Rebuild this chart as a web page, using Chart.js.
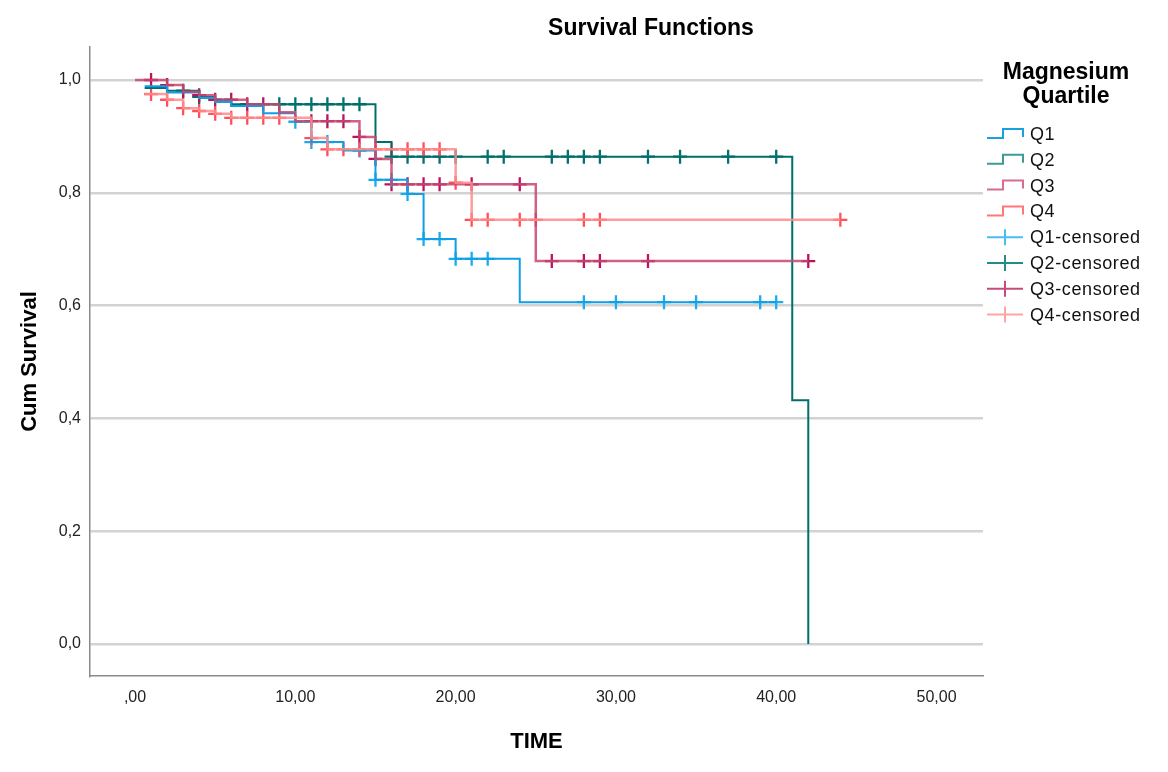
<!DOCTYPE html>
<html>
<head>
<meta charset="utf-8">
<script src="https://cdn.jsdelivr.net/npm/chart.js@4/dist/chart.umd.min.js"></script>
<style>
html,body{margin:0;padding:0;background:#fff;}
#wrap{width:1168px;height:772px;position:relative;}
</style>
</head>
<body>
<div id="wrap"><canvas id="c"></canvas></div>
<script>
// ---- Data ----
const chartTitle = 'Survival Functions';
const legendTitle = ['Magnesium', 'Quartile'];
const xTicks = [0, 10, 20, 30, 40, 50];
const yTicks = [0, 0.2, 0.4, 0.6, 0.8, 1.0];

const q1Time = [0.6, 2, 4, 5, 6, 8, 10, 11, 13, 15, 17, 18, 20, 24, 40];
const q1Surv = [0.989, 0.978, 0.968, 0.961, 0.954, 0.941, 0.926, 0.890, 0.875, 0.823, 0.798, 0.718, 0.683, 0.606, 0.606];
const q1CensTime = [10, 11, 12, 14, 15, 16, 17, 18, 19, 20, 21, 22, 28, 30, 33, 35, 39, 40];
const q1CensSurv = [0.926, 0.890, 0.890, 0.875, 0.823, 0.823, 0.798, 0.718, 0.718, 0.683, 0.683, 0.683, 0.606, 0.606, 0.606, 0.606, 0.606, 0.606];

const q2Time = [0.6, 2, 4, 5, 6, 15, 16, 41, 42];
const q2Surv = [0.986, 0.981, 0.970, 0.965, 0.957, 0.890, 0.864, 0.432, 0.0];
const q2CensTime = [3, 4, 9, 10, 11, 12, 13, 14, 16, 17, 18, 19, 20, 22, 23, 26, 27, 28, 29, 32, 34, 37, 40];
const q2CensSurv = [0.981, 0.970, 0.957, 0.957, 0.957, 0.957, 0.957, 0.957, 0.864, 0.864, 0.864, 0.864, 0.864, 0.864, 0.864, 0.864, 0.864, 0.864, 0.864, 0.864, 0.864, 0.864, 0.864];

const q3Time = [0, 2, 3, 4, 5, 7, 9, 10, 14, 15, 16, 25, 42];
const q3Surv = [1.0, 0.991, 0.979, 0.973, 0.965, 0.957, 0.943, 0.927, 0.899, 0.860, 0.815, 0.679, 0.679];
const q3CensTime = [1, 2, 3, 4, 5, 6, 7, 8, 11, 12, 13, 14, 15, 16, 17, 18, 19, 21, 24, 26, 28, 29, 32, 42];
const q3CensSurv = [1.0, 0.991, 0.979, 0.973, 0.965, 0.965, 0.957, 0.957, 0.927, 0.927, 0.927, 0.899, 0.860, 0.815, 0.815, 0.815, 0.815, 0.815, 0.815, 0.679, 0.679, 0.679, 0.679, 0.679];

const q4Time = [0.6, 2, 3, 4, 5, 6, 11, 12, 20, 21, 44];
const q4Surv = [0.975, 0.965, 0.950, 0.945, 0.940, 0.933, 0.897, 0.877, 0.818, 0.752, 0.752];
const q4CensTime = [1, 2, 3, 4, 5, 6, 7, 8, 9, 11, 12, 13, 14, 15, 16, 17, 18, 19, 20, 21, 22, 24, 25, 28, 29, 44];
const q4CensSurv = [0.975, 0.965, 0.950, 0.945, 0.940, 0.933, 0.933, 0.933, 0.933, 0.897, 0.877, 0.877, 0.877, 0.877, 0.877, 0.877, 0.877, 0.877, 0.818, 0.752, 0.752, 0.752, 0.752, 0.752, 0.752, 0.752];

const seriesNames = ['Q1', 'Q2', 'Q3', 'Q4', 'Q1-censored', 'Q2-censored', 'Q3-censored', 'Q4-censored'];

// ---- Styles ----
const lineColors = {Q1:'#0f9fe6', Q2:'#006f6c', Q3:'rgba(200,72,112,0.85)', Q4:'rgba(255,140,140,0.85)'};
const markColors = {Q1:'#1aacee', Q2:'#00716e', Q3:'#b8165a', Q4:'#ff5058'};
const legendColors = ['#1a9fe0','#3d9b96','#d46f91','#ff7878','#47bdf0','#238c87','#c44c7a','#ffa3a3'];

function pts(t, v){ return t.map((x,i)=>({x:x, y:v[i]})); }

const FONT = "'Liberation Sans', Arial, sans-serif";

function lineDs(name, t, v, w){
  return {label:name, type:'line', data:pts(t,v), stepped:true, borderColor:lineColors[name],
    borderWidth:w, pointRadius:0, fill:false, tension:0};
}
function censDs(name, t, v){
  return {label:name+'-censored', type:'scatter', data:pts(t,v), pointStyle:'cross',
    pointRadius:7, pointBorderWidth:2.3, borderColor:markColors[name], backgroundColor:markColors[name], showLine:false};
}

const datasets = [
  lineDs('Q4', q4Time, q4Surv, 2.5),
  lineDs('Q3', q3Time, q3Surv, 2.5),
  lineDs('Q1', q1Time, q1Surv, 2),
  lineDs('Q2', q2Time, q2Surv, 2),
  censDs('Q4', q4CensTime, q4CensSurv),
  censDs('Q1', q1CensTime, q1CensSurv),
  censDs('Q3', q3CensTime, q3CensSurv),
  censDs('Q2', q2CensTime, q2CensSurv)
];

const decorPlugin = {
  id:'decor',
  afterDraw(chart){
    const ctx = chart.ctx;
    ctx.save();
    ctx.fillStyle = '#000';
    ctx.font = 'bold 23px ' + FONT;
    ctx.textAlign = 'center';
    ctx.textBaseline = 'middle';
    ctx.fillText(chartTitle, 651, 29);
    ctx.font = 'bold 23px ' + FONT;
    ctx.fillText(legendTitle[0], 1066, 73);
    ctx.fillText(legendTitle[1], 1066, 97);
    ctx.textAlign = 'left';
    ctx.font = '18px ' + FONT;
    try { ctx.letterSpacing = '0.6px'; } catch(e) {}
    const x0 = 987, x1 = 1023;
    seriesNames.forEach((name, i) => {
      const y = 134 + i * 25.8;
      ctx.strokeStyle = legendColors[i];
      ctx.lineWidth = 2;
      ctx.beginPath();
      if (i < 4) {
        ctx.moveTo(x0, y + 4);
        ctx.lineTo(x0 + 16, y + 4);
        ctx.lineTo(x0 + 16, y - 5);
        ctx.lineTo(x1, y - 5);
        ctx.lineTo(x1, y + 3);
      } else {
        ctx.moveTo(x0, y);
        ctx.lineTo(x1, y);
        ctx.moveTo((x0 + x1) / 2, y - 8);
        ctx.lineTo((x0 + x1) / 2, y + 8);
      }
      ctx.stroke();
      ctx.fillStyle = '#111';
      ctx.fillText(name, 1030, y + 1);
    });
    ctx.restore();
  }
};

new Chart(document.getElementById('c'), {
  data:{datasets:datasets},
  options:{
    responsive:true, maintainAspectRatio:false, animation:false,
    layout:{padding:{top:47, right:185, left:0, bottom:0}},
    plugins:{legend:{display:false}, title:{display:false}, tooltip:{enabled:false}},
    scales:{
      x:{type:'linear', min:-2.81, max:52.9,
        afterBuildTicks(s){ s.ticks = xTicks.map(v=>({value:v})); },
        afterFit(s){ s.height = 96; },
        grid:{display:false, drawTicks:false},
        border:{display:true, color:'#8a8a8a', width:1.5},
        ticks:{padding:12, color:'#222', font:{family:FONT, size:16},
          callback:(v)=> v===0 ? ',00' : v.toFixed(2).replace('.', ',')},
        title:{display:true, text:'TIME', color:'#000', font:{family:FONT, size:22, weight:'bold'}, padding:{top:0, bottom:17}}
      },
      y:{type:'linear', min:-0.0567, max:1.0585,
        afterBuildTicks(s){ s.ticks = yTicks.map(v=>({value:v})); },
        afterFit(s){ s.width = 90; },
        grid:{display:true, drawTicks:false, color:'#d3d3d3', lineWidth:2.5},
        border:{display:true, color:'#8a8a8a', width:1.5},
        ticks:{padding:9, color:'#222', font:{family:FONT, size:16},
          callback:(v)=> v.toFixed(1).replace('.', ',')},
        title:{display:true, text:'Cum Survival', color:'#000', font:{family:FONT, size:22, weight:'bold'}, padding:{top:17, bottom:0}}
      }
    }
  },
  plugins:[decorPlugin]
});
</script>
</body>
</html>
